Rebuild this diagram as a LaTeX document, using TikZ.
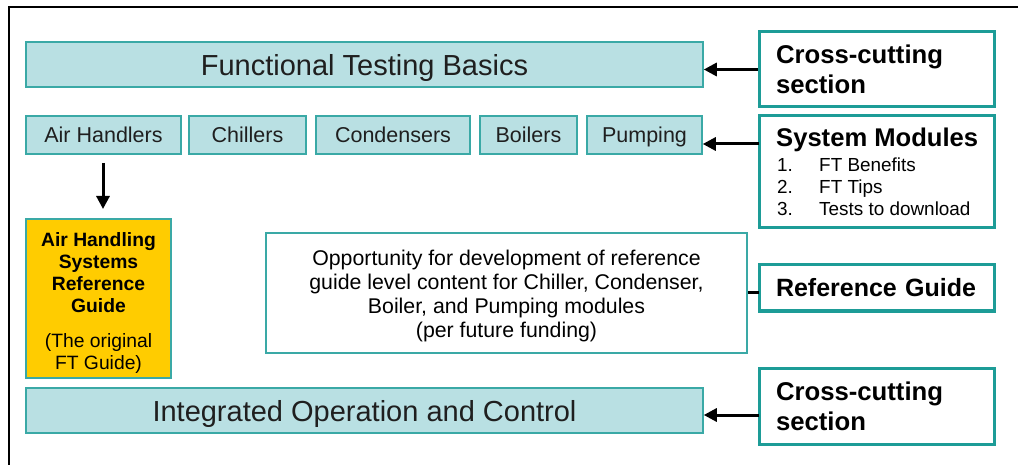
\documentclass[tikz,border=0pt]{standalone}
\usepackage{fontspec}
\setmainfont{Liberation Sans}
\usetikzlibrary{arrows.meta}
\definecolor{tealfill}{HTML}{B9E0E3}
\definecolor{tealline}{HTML}{3AA9A6}
\definecolor{tealdark}{HTML}{1D9C97}
\definecolor{ayellow}{HTML}{FFCC00}
\begin{document}
\begin{tikzpicture}[x=1pt,y=-1pt,
  modbox/.style={draw=tealline, fill=tealfill, line width=1.5pt, inner sep=0pt, text=black!88},
  sidebox/.style={draw=tealdark, fill=white, line width=3pt, inner sep=0pt},
  arr/.style={line width=3pt, -{Triangle[length=13pt,width=13pt]}},
  bigf/.style={font=\fontsize{29}{34}\selectfont, text height=21.5pt, text depth=0pt},
  modf/.style={font=\fontsize{21.5}{25}\selectfont, text height=16pt, text depth=0pt},
  sidef/.style={font=\fontsize{25.7}{30}\selectfont\bfseries},
]
\useasboundingbox (0,0) rectangle (1018,465);
\fill[white] (0,0) rectangle (1018,465);
\draw[line width=2.2pt] (9,465) -- (9,7) -- (1018,7);

% main bars
\node[modbox, bigf, minimum width=677pt, minimum height=45pt] (ftb) at (364.5,64.5) {Functional Testing Basics};
\node[modbox, bigf, minimum width=677pt, minimum height=45pt] (ioc) at (364.5,410.5) {Integrated Operation and Control};

% module row
\node[modbox, modf, minimum width=155pt, minimum height=38pt] (ah) at (103.5,135) {Air Handlers};
\node[modbox, modf, minimum width=117pt, minimum height=38pt] (ch) at (247.5,135) {Chillers};
\node[modbox, modf, minimum width=154pt, minimum height=38pt] (co) at (393,135) {Condensers};
\node[modbox, modf, minimum width=97pt, minimum height=38pt] (bo) at (528.5,135) {Boilers};
\node[modbox, modf, minimum width=115pt, minimum height=38pt] (pu) at (644.5,135) {Pumping};

% yellow guide
\node[draw=tealline, fill=ayellow, line width=1.5pt, inner sep=0pt, minimum width=145pt, minimum height=159pt] (yel) at (98.5,298.5) {};
\node[align=center, inner sep=0pt, font=\fontsize{19.3}{22}\selectfont] (yeltxt) at (98.5,303)
  {\bfseries Air Handling\\ \bfseries Systems\\ \bfseries Reference\\ \bfseries Guide\\[13pt] (The original\\ FT Guide)};

% opportunity box
\node[draw=tealline, fill=white, line width=1.5pt, inner sep=0pt, minimum width=481pt, minimum height=120pt] (opp) at (506.5,293) {};
\node[align=center, inner sep=0pt, font=\fontsize{21.3}{24}\selectfont] (opptxt) at (506.5,295.5)
  {Opportunity for development of reference\\ guide level content for Chiller, Condenser,\\ Boiler, and Pumping modules\\ (per future funding)};

% side boxes
\node[sidebox, sidef, text width=201pt, inner xsep=17pt, minimum height=75pt, align=left] (cc1) at (876.5,69.5) {Cross-cutting\\ section};
\node[sidebox, minimum width=235pt, minimum height=112pt] (sm) at (876.5,172) {};
\node[anchor=base west, inner sep=0pt, font=\fontsize{25.6}{30}\selectfont\bfseries] (smt) at (776,147) {System Modules};
\node[anchor=base west, inner sep=0pt, font=\fontsize{18.9}{22}\selectfont] (sm1) at (777,172) {\makebox[42pt][l]{1.}FT Benefits};
\node[anchor=base west, inner sep=0pt, font=\fontsize{18.9}{22}\selectfont] (sm2) at (777,194) {\makebox[42pt][l]{2.}FT Tips};
\node[anchor=base west, inner sep=0pt, font=\fontsize{18.9}{22}\selectfont] (sm3) at (777,216) {\makebox[42pt][l]{3.}Tests to download};
\node[sidebox, font=\fontsize{25}{30}\selectfont\bfseries, text width=201pt, inner xsep=17pt, minimum height=46pt, align=left] (rg) at (876.5,288) {Reference Guide};
\node[sidebox, sidef, text width=201pt, inner xsep=17pt, minimum height=76pt, align=left] (cc2) at (876.5,406) {Cross-cutting\\ section};

% connectors
\draw[arr] (cc1.west) -- (ftb.east |- cc1.west);
\coordinate (smA) at (759,144);
\draw[arr] (smA) -- (pu.east |- smA);
\coordinate (rgA) at (759,293);
\draw[line width=3pt] (rgA) -- (opp.east |- rgA);
\coordinate (ccB) at (759,415);
\draw[arr] (ccB) -- (ioc.east |- ccB);
\coordinate (ahA) at (103,163);
\coordinate (ahB) at (103,209);
\draw[arr] (ahA) -- (ahB);
\end{tikzpicture}
\end{document}
